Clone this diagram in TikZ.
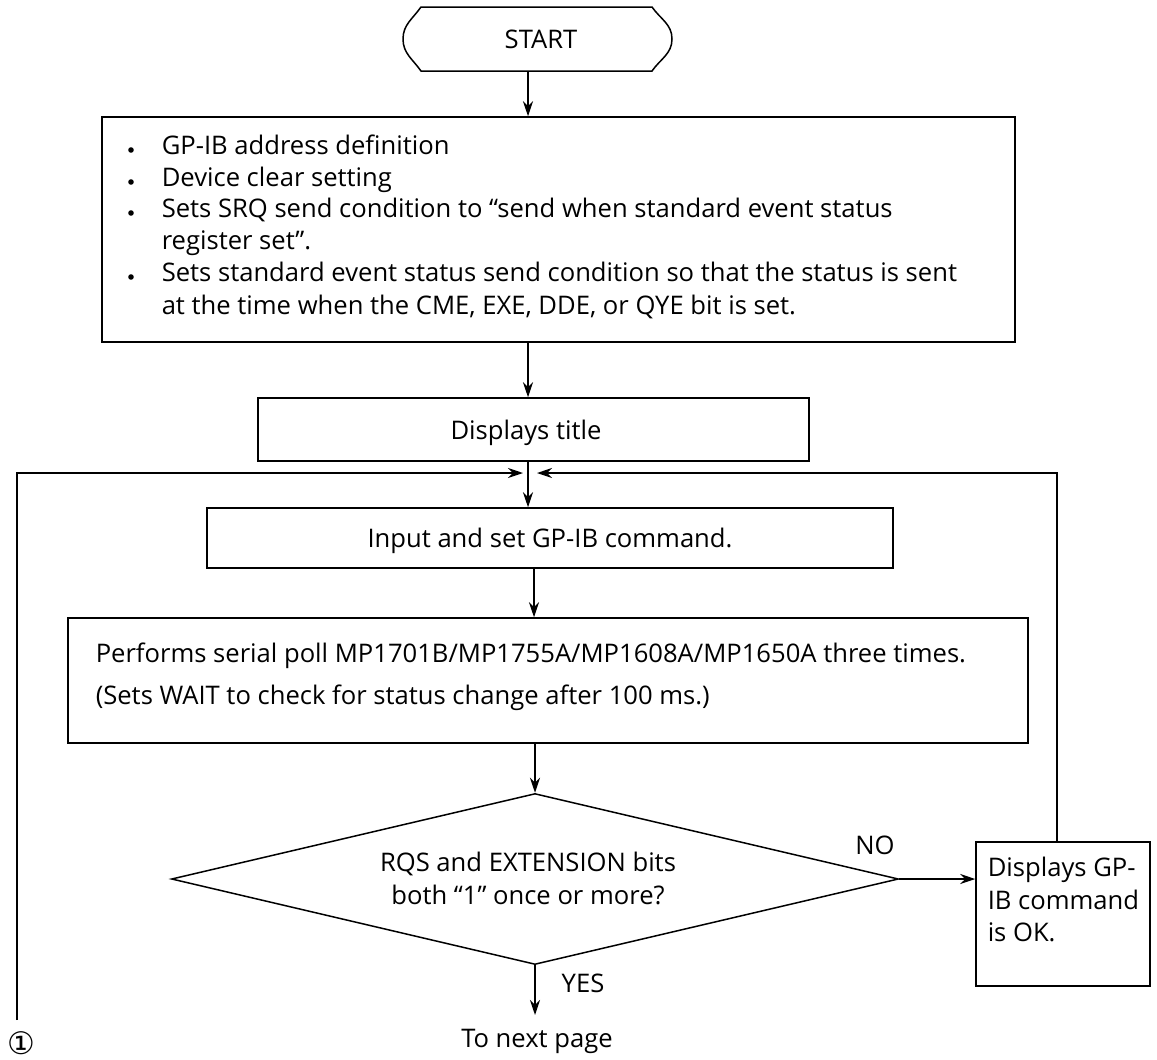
\documentclass[tikz,border=0pt]{standalone}
\usepackage{fontspec}
\setmainfont{Open Sans}
\newfontfamily\symfont{DejaVu Sans}
\usetikzlibrary{arrows.meta,shapes.geometric,calc}
\begin{document}
\begin{tikzpicture}[x=1pt,y=1pt,line width=1.5pt,
  font=\fontsize{25.6}{32}\selectfont,
  arr/.style={-{Stealth[length=15pt,width=10pt,inset=5pt]}},
  box/.style={draw,rectangle,inner sep=0pt},
  txt/.style={inner sep=0pt,anchor=base},
  ltxt/.style={inner sep=0pt,anchor=base west},
  bul/.style={fill=black}]
\useasboundingbox (0,0) rectangle (1157,-1060);
\coordinate (axis) at (528,0);
\coordinate (axisb) at (534,0);
% START terminal
\node[inner sep=0pt,minimum width=269pt,minimum height=64pt] (start) at (537.5,-39) {};
\draw (421,-7) -- (652,-7) to[out=-55,in=90] (672,-39) to[out=-90,in=55] (652,-71)
  -- (421,-71) to[out=125,in=-90] (403,-39) to[out=90,in=-125] (421,-7) -- cycle;
\node[txt] (starttext) at (541,-48) {START};
% box 1
\node[box,minimum width=913pt,minimum height=225pt] (b1) at (558.5,-229.5) {};
\fill[bul] (131,-150) circle (2.8);
\fill[bul] (131,-182) circle (2.8);
\fill[bul] (131,-213) circle (2.8);
\fill[bul] (131,-277) circle (2.8);
\node[ltxt] (l1) at (161,-154) {GP-IB address definition};
\node[ltxt] (l2) at (161,-186) {Device clear setting};
\node[ltxt] (l3) at (161,-217) {Sets SRQ send condition to “send when standard event status};
\node[ltxt] (l4) at (161,-249) {register set”.};
\node[ltxt] (l5) at (161,-281) {Sets standard event status send condition so that the status is sent};
\node[ltxt] (l6) at (161,-314) {at the time when the CME, EXE, DDE, or QYE bit is set.};
% title box
\node[box,minimum width=551pt,minimum height=63pt] (tb) at (533.5,-429.5) {};
\node[txt] (tbt) at (526,-439) {Displays title};
% input box
\node[box,minimum width=686pt,minimum height=60pt] (ib) at (550,-538) {};
\node[txt] (ibt) at (550,-547) {Input and set GP-IB command.};
% perform box
\node[box,minimum width=960pt,minimum height=125pt] (pb) at (548,-680.5) {};
\node[ltxt] (p1) at (95,-662) {Performs serial poll MP1701B/MP1755A/MP1608A/MP1650A three times.};
\node[ltxt] (p2) at (95,-704) {(Sets WAIT to check for status change after 100 ms.)};
% decision
\node[draw,diamond,inner sep=0pt,minimum width=727pt,minimum height=171pt] (dia) at (535,-879) {};
\node[txt] (d1) at (528,-871) {RQS and EXTENSION bits};
\node[txt] (d2) at (528,-904) {both “1” once or more?};
\node[txt] (no) at (875,-854) {NO};
\node[txt] (yes) at (583,-992) {YES};
% right box
\node[box,minimum width=174pt,minimum height=144pt] (rb) at (1063,-914) {};
\node[ltxt] (r1) at (987,-876) {Displays GP-};
\node[ltxt] (r2) at (987,-909) {IB command};
\node[ltxt] (r3) at (987,-941) {is OK.};
% next page
\coordinate (nextp) at (535,-1015);
\node[txt] (np) at (537,-1047) {To next page};
\node[inner sep=0pt] (c1) at (21,-1043) {\symfont\fontsize{31}{31}\selectfont ①};
% connectors
\draw[arr] (start.south -| axis) -- (b1.north -| axis);
\draw[arr] (b1.south -| axis) -- (tb.north -| axis);
\draw[arr] (tb.south -| axis) -- (ib.north -| axis);
\draw[arr] (ib.south -| axisb) -- (pb.north -| axisb);
\draw[arr] (pb.south -| dia.north) -- (dia.north);
\draw[arr] (dia.south) -- (nextp);
\draw[arr] (dia.east) -- (dia.east -| rb.west);
\coordinate (lb) at (17,-1020);
\coordinate (lt) at (17,-473);
\coordinate (jl) at (523,-473);
\coordinate (jr) at (537,-473);
\coordinate (rt) at (1057,-473);
\draw[arr] (lb) -- (lt) -- (jl);
\draw[arr] (rb.north -| rt) -- (rt) -- (jr);
\end{tikzpicture}
\end{document}
